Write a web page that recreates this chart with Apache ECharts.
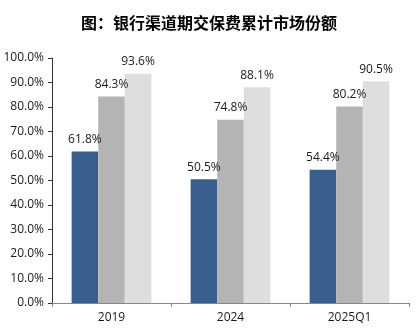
<!DOCTYPE html>
<html><head><meta charset="utf-8">
<script src="https://cdn.jsdelivr.net/npm/echarts@6/dist/echarts.min.js"></script>
<style>html,body{margin:0;padding:0;background:#fff}#c{width:418px;height:332px}</style>
</head><body><div id="c"></div>
<script>
const categories = ['2019', '2024', '2025Q1'];
const series1 = [61.8, 50.5, 54.4];
const series2 = [84.3, 74.8, 80.2];
const series3 = [93.6, 88.1, 90.5];
const colors = ['#385E8E', '#B4B4B4', '#DEDEDE'];
const font = '"Open Sans", "Noto Sans", sans-serif';
const chart = echarts.init(document.getElementById('c'));
const lbl = {show: true, position: 'top', distance: 6, color: '#1a1a1a', fontSize: 12, fontFamily: font,
  formatter: p => p.value.toFixed(1) + '%'};
function mk(data, i) {
  return {type: 'bar', data: data, barGap: '0%', barCategoryGap: '33%', itemStyle: {color: colors[i]}, label: lbl};
}
chart.setOption({
  animation: false,
  title: {text: '图：银行渠道期交保费累计市场份额', left: 'center', top: 10,
    textStyle: {fontSize: 16, fontWeight: 'bold', color: '#000', fontFamily: '"Noto Sans CJK SC", sans-serif'}},
  grid: {left: 52, right: 9, top: 58, bottom: 29, containLabel: false},
  xAxis: {type: 'category', data: categories,
    axisLine: {lineStyle: {color: '#888', width: 1}},
    axisTick: {show: true, alignWithLabel: false, lineStyle: {color: '#888'}, length: 4},
    axisLabel: {color: '#1a1a1a', fontSize: 12, fontFamily: font, margin: 9}},
  yAxis: {type: 'value', min: 0, max: 100, interval: 10,
    axisLine: {show: true, lineStyle: {color: '#333'}},
    axisTick: {show: true, lineStyle: {color: '#333'}, length: 4},
    splitLine: {show: false},
    axisLabel: {color: '#1a1a1a', fontSize: 12, fontFamily: font, margin: 8, formatter: v => v.toFixed(1) + '%'}},
  series: [mk(series1, 0), mk(series2, 1), mk(series3, 2)]
});
</script></body></html>
